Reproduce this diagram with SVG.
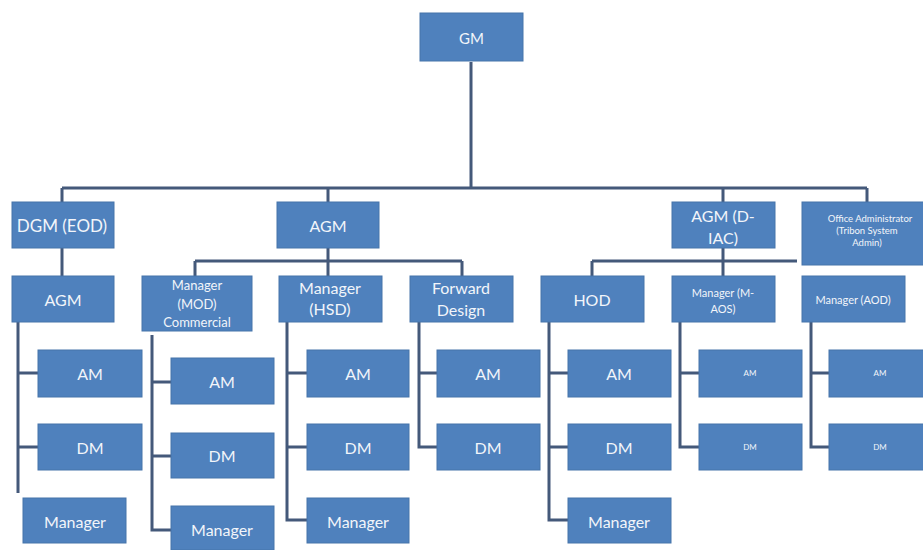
<svg xmlns="http://www.w3.org/2000/svg" width="923" height="550" viewBox="0 0 923 550">
<style>
.b{fill:#4f81bd;stroke:#4674aa;stroke-width:1}
.t{fill:#f2f5fa;font-family:Lato,"Open Sans","Liberation Sans",sans-serif;text-anchor:middle;dominant-baseline:central}
.l{fill:none;stroke:#44597a;stroke-width:3}
</style>
<rect width="923" height="550" fill="#ffffff"/>
<g id="connectors" class="l">
<path d="M471,62V188M62,188H867M62,188V202M328,188V202M723,188V202M867,188V202"/>
<path d="M62,248V276"/>
<path d="M328,248V276M195,261H462M195,261V276M462,261V276"/>
<path d="M723,248V276M592,261H797M592,261V276"/>
<path d="M18,322V493M18,373H38M18,447H38"/>
<path d="M152,335V530H171M152,382H171M152,456H171"/>
<path d="M287,322V520H307M287,373H307M287,447H307"/>
<path d="M419,322V447H437M419,373H437"/>
<path d="M549,322V520H568M549,373H568M549,447H568"/>
<path d="M680,322V447H699M680,373H699"/>
<path d="M811,322V447H829M811,373H829"/>
</g>
<g id="gm"><rect class="b" x="420" y="13" width="103" height="48"/><text class="t" x="471.5" y="38" font-size="15">GM</text></g>
<g id="dgm"><rect class="b" x="12" y="202" width="102" height="46"/><text class="t" x="62" y="225" font-size="17">DGM (EOD)</text></g>
<g id="agm-left"><rect class="b" x="12" y="276" width="102" height="46"/><text class="t" x="63" y="299" font-size="16">AGM</text></g>
<g id="agm-mid"><rect class="b" x="277" y="202" width="102" height="46"/><text class="t" x="328" y="225" font-size="16">AGM</text></g>
<g id="agm-diac"><rect class="b" x="672" y="202" width="103" height="46"/><text class="t" x="723" y="215" font-size="16">AGM (D-</text><text class="t" x="723" y="237" font-size="16">IAC)</text></g>
<g id="office-admin"><rect class="b" x="802" y="202" width="130" height="63"/><text class="t" x="870" y="218" font-size="9.5">Office Administrator</text><text class="t" x="867" y="230" font-size="9.5">(Tribon System</text><text class="t" x="867" y="242" font-size="9.5">Admin)</text></g>
<g id="mgr-mod"><rect class="b" x="142" y="276" width="110" height="55"/><text class="t" x="197" y="285" font-size="13">Manager</text><text class="t" x="197" y="304" font-size="13">(MOD)</text><text class="t" x="197" y="322" font-size="13">Commercial</text></g>
<g id="mgr-hsd"><rect class="b" x="279" y="276" width="103" height="46"/><text class="t" x="330" y="287" font-size="16">Manager</text><text class="t" x="330" y="308" font-size="16">(HSD)</text></g>
<g id="fwd"><rect class="b" x="410" y="276" width="103" height="46"/><text class="t" x="461" y="287" font-size="16">Forward</text><text class="t" x="461" y="309" font-size="16">Design</text></g>
<g id="hod"><rect class="b" x="541" y="276" width="103" height="46"/><text class="t" x="592" y="299" font-size="16">HOD</text></g>
<g id="mgr-maos"><rect class="b" x="672" y="276" width="103" height="46"/><text class="t" x="723" y="292" font-size="11">Manager (M-</text><text class="t" x="723" y="308" font-size="11">AOS)</text></g>
<g id="mgr-aod"><rect class="b" x="802" y="276" width="103" height="46"/><text class="t" x="853" y="299" font-size="11">Manager (AOD)</text></g>
<g id="c1-am"><rect class="b" x="38" y="350" width="104" height="47"/><text class="t" x="90" y="373" font-size="16">AM</text></g>
<g id="c1-dm"><rect class="b" x="38" y="424" width="104" height="46"/><text class="t" x="90" y="447" font-size="16">DM</text></g>
<g id="c1-mgr"><rect class="b" x="23" y="498" width="103" height="45"/><text class="t" x="75" y="521" font-size="16">Manager</text></g>
<g id="c2-am"><rect class="b" x="171" y="358" width="103" height="46"/><text class="t" x="222" y="381" font-size="16">AM</text></g>
<g id="c2-dm"><rect class="b" x="171" y="433" width="103" height="45"/><text class="t" x="222" y="455" font-size="16">DM</text></g>
<g id="c2-mgr"><rect class="b" x="171" y="506" width="103" height="44"/><text class="t" x="222" y="529" font-size="16">Manager</text></g>
<g id="c3-am"><rect class="b" x="307" y="350" width="102" height="47"/><text class="t" x="358" y="373" font-size="16">AM</text></g>
<g id="c3-dm"><rect class="b" x="307" y="424" width="102" height="46"/><text class="t" x="358" y="447" font-size="16">DM</text></g>
<g id="c3-mgr"><rect class="b" x="307" y="498" width="102" height="45"/><text class="t" x="358" y="521" font-size="16">Manager</text></g>
<g id="c4-am"><rect class="b" x="437" y="350" width="103" height="47"/><text class="t" x="488" y="373" font-size="16">AM</text></g>
<g id="c4-dm"><rect class="b" x="437" y="424" width="103" height="46"/><text class="t" x="488" y="447" font-size="16">DM</text></g>
<g id="c5-am"><rect class="b" x="568" y="350" width="103" height="47"/><text class="t" x="619" y="373" font-size="16">AM</text></g>
<g id="c5-dm"><rect class="b" x="568" y="424" width="103" height="46"/><text class="t" x="619" y="447" font-size="16">DM</text></g>
<g id="c5-mgr"><rect class="b" x="568" y="498" width="103" height="45"/><text class="t" x="619" y="521" font-size="16">Manager</text></g>
<g id="c6-am"><rect class="b" x="699" y="350" width="103" height="47"/><text class="t" x="750" y="373" font-size="8">AM</text></g>
<g id="c6-dm"><rect class="b" x="699" y="424" width="103" height="46"/><text class="t" x="750" y="447" font-size="8">DM</text></g>
<g id="c7-am"><rect class="b" x="829" y="350" width="103" height="47"/><text class="t" x="880" y="373" font-size="8">AM</text></g>
<g id="c7-dm"><rect class="b" x="829" y="424" width="103" height="46"/><text class="t" x="880" y="447" font-size="8">DM</text></g>
</svg>
